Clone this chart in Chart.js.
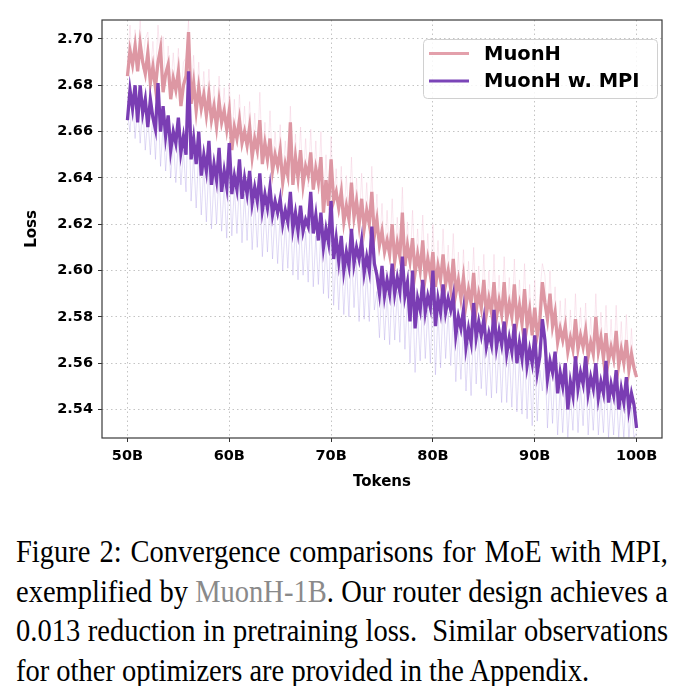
<!DOCTYPE html>
<html>
<head>
<meta charset="utf-8">
<script src="https://cdn.jsdelivr.net/npm/chart.js@4.4.1/dist/chart.umd.min.js"></script>
<style>
  body { margin: 0; background: #fff; width: 689px; height: 686px; position: relative; overflow: hidden; }
  #chartLoss { position: absolute; left: 0; top: 0; }
  .caption { position: absolute; left: 16px; top: 532px; width: 652px; font-family: "Liberation Serif", "Times New Roman", serif; font-size: 28.5px; line-height: 39.5px; color: #000; }
  .caption div { transform: scaleY(1.08); }
  .caption .j { text-align: justify; text-align-last: justify; }
  .gray { color: #8a8a8a; }
</style>
</head>
<body>
<canvas id="chartLoss" width="689" height="500"></canvas>
<div class="caption">
  <div class="j">Figure 2: Convergence comparisons for MoE with MPI,</div>
  <div class="j">exemplified by <span class="gray">MuonH-1B</span>. Our router design achieves a</div>
  <div class="j">0.013 reduction in pretraining loss. &nbsp;Similar observations</div>
  <div>for other optimizers are provided in the Appendix.</div>
</div>
<script>
// every series is sampled from 50B to 100B tokens, every 0.25B
const tokenStart = 50;
const tokenStep = 0.25;
const xTicks = [50, 60, 70, 80, 90, 100];
const yTicks = [2.54, 2.56, 2.58, 2.60, 2.62, 2.64, 2.66, 2.68, 2.70];

// smoothed losses
const lossMuonH = [
  2.684, 2.695, 2.689, 2.697,  2.686, 2.698, 2.690, 2.685,  2.694, 2.681, 2.688, 2.679,
  2.690, 2.696, 2.677, 2.685,  2.689, 2.674, 2.683, 2.678,  2.686, 2.671, 2.680, 2.684,
  2.703, 2.672, 2.681, 2.669,  2.679, 2.670, 2.676, 2.667,  2.676, 2.665, 2.671, 2.662,
  2.673, 2.664, 2.669, 2.661,  2.669, 2.652, 2.662, 2.657,  2.665, 2.655, 2.660, 2.654,
  2.662, 2.649, 2.657, 2.652,  2.665, 2.646, 2.655, 2.648,  2.657, 2.643, 2.650, 2.645,
  2.652, 2.638, 2.646, 2.641,  2.664, 2.637, 2.649, 2.640,  2.652, 2.637, 2.645, 2.641,
  2.651, 2.635, 2.644, 2.638,  2.649, 2.625, 2.639, 2.628,  2.648, 2.630, 2.634, 2.627,
  2.634, 2.621, 2.628, 2.622,  2.638, 2.623, 2.630, 2.620,  2.631, 2.618, 2.626, 2.620,
  2.634, 2.615, 2.622, 2.611,  2.617, 2.608, 2.613, 2.607,  2.620, 2.604, 2.612, 2.606,
  2.625, 2.602, 2.611, 2.604,  2.614, 2.599, 2.607, 2.600,  2.613, 2.597, 2.605, 2.598,
  2.608, 2.593, 2.602, 2.596,  2.607, 2.594, 2.600, 2.592,  2.605, 2.590, 2.596, 2.588,
  2.597, 2.585, 2.592, 2.586,  2.599, 2.583, 2.590, 2.584,  2.596, 2.581, 2.588, 2.582,
  2.595, 2.580, 2.587, 2.581,  2.595, 2.579, 2.586, 2.580,  2.594, 2.578, 2.585, 2.577,
  2.592, 2.576, 2.583, 2.572,  2.584, 2.572, 2.578, 2.595,  2.586, 2.579, 2.590, 2.576,
  2.582, 2.569, 2.575, 2.570,  2.576, 2.565, 2.571, 2.566,  2.579, 2.566, 2.572, 2.567,
  2.574, 2.563, 2.569, 2.564,  2.580, 2.565, 2.571, 2.562,  2.573, 2.561, 2.567, 2.562,
  2.574, 2.559, 2.566, 2.560,  2.570, 2.557, 2.564, 2.558,
  2.554
];

const lossMuonHMPI = [
  2.665, 2.678, 2.670, 2.680,  2.664, 2.680, 2.668, 2.674,  2.662, 2.674, 2.666, 2.661,
  2.681, 2.660, 2.671, 2.658,  2.667, 2.652, 2.660, 2.655,  2.666, 2.651, 2.658, 2.650,
  2.686, 2.648, 2.657, 2.646,  2.660, 2.641, 2.650, 2.643,  2.656, 2.637, 2.646, 2.639,
  2.653, 2.634, 2.643, 2.636,  2.655, 2.633, 2.641, 2.635,  2.648, 2.631, 2.640, 2.633,
  2.643, 2.629, 2.636, 2.630,  2.642, 2.626, 2.633, 2.627,  2.636, 2.624, 2.630, 2.625,
  2.631, 2.620, 2.626, 2.621,  2.634, 2.618, 2.625, 2.617,  2.628, 2.617, 2.622, 2.619,
  2.634, 2.616, 2.624, 2.613,  2.625, 2.610, 2.618, 2.612,  2.630, 2.605, 2.614, 2.604,
  2.615, 2.600, 2.608, 2.602,  2.618, 2.603, 2.610, 2.605,  2.613, 2.599, 2.606, 2.600,
  2.619, 2.603, 2.598, 2.590,  2.602, 2.589, 2.596, 2.590,  2.603, 2.590, 2.597, 2.591,
  2.606, 2.589, 2.595, 2.578,  2.600, 2.575, 2.588, 2.583,  2.596, 2.582, 2.589, 2.584,
  2.600, 2.576, 2.588, 2.582,  2.594, 2.582, 2.588, 2.583,  2.589, 2.572, 2.580, 2.575,
  2.583, 2.567, 2.575, 2.569,  2.586, 2.571, 2.578, 2.572,  2.579, 2.567, 2.573, 2.568,
  2.583, 2.567, 2.574, 2.568,  2.578, 2.564, 2.571, 2.565,  2.577, 2.560, 2.569, 2.562,
  2.575, 2.559, 2.566, 2.560,  2.572, 2.556, 2.563, 2.579,  2.570, 2.553, 2.561, 2.556,
  2.565, 2.547, 2.556, 2.550,  2.560, 2.540, 2.552, 2.546,  2.563, 2.549, 2.556, 2.551,
  2.563, 2.547, 2.554, 2.549,  2.560, 2.545, 2.552, 2.547,  2.561, 2.543, 2.551, 2.546,
  2.557, 2.540, 2.549, 2.543,  2.554, 2.540, 2.547, 2.542,
  2.532
];

// unsmoothed losses (faint lines behind)
const rawMuonH = [
  2.690, 2.706, 2.688, 2.704,  2.692, 2.708, 2.687, 2.700,  2.703, 2.684, 2.699, 2.683,
  2.706, 2.689, 2.701, 2.680,  2.697, 2.679, 2.694, 2.678,  2.696, 2.675, 2.690, 2.692,
  2.708, 2.674, 2.693, 2.671,  2.690, 2.670, 2.686, 2.668,  2.687, 2.666, 2.680, 2.664,
  2.684, 2.663, 2.679, 2.660,  2.681, 2.656, 2.674, 2.656,  2.676, 2.655, 2.671, 2.652,
  2.673, 2.650, 2.668, 2.648,  2.677, 2.647, 2.664, 2.646,  2.669, 2.644, 2.660, 2.642,
  2.663, 2.640, 2.656, 2.638,  2.671, 2.638, 2.659, 2.637,  2.662, 2.637, 2.657, 2.636,
  2.661, 2.635, 2.656, 2.633,  2.660, 2.627, 2.650, 2.626,  2.658, 2.628, 2.644, 2.624,
  2.645, 2.622, 2.641, 2.620,  2.649, 2.621, 2.640, 2.618,  2.642, 2.618, 2.638, 2.616,
  2.645, 2.613, 2.633, 2.609,  2.629, 2.607, 2.626, 2.605,  2.631, 2.604, 2.623, 2.603,
  2.636, 2.602, 2.621, 2.601,  2.626, 2.599, 2.618, 2.597,  2.624, 2.596, 2.616, 2.595,
  2.620, 2.593, 2.613, 2.591,  2.618, 2.593, 2.611, 2.590,  2.616, 2.589, 2.608, 2.586,
  2.609, 2.585, 2.604, 2.583,  2.610, 2.582, 2.602, 2.581,  2.607, 2.580, 2.600, 2.579,
  2.607, 2.579, 2.598, 2.578,  2.606, 2.578, 2.597, 2.576,  2.605, 2.576, 2.596, 2.574,
  2.603, 2.574, 2.594, 2.571,  2.596, 2.571, 2.590, 2.603,  2.598, 2.577, 2.600, 2.574,
  2.593, 2.568, 2.587, 2.567,  2.588, 2.564, 2.583, 2.563,  2.590, 2.565, 2.584, 2.564,
  2.586, 2.562, 2.580, 2.561,  2.590, 2.562, 2.582, 2.560,  2.585, 2.559, 2.579, 2.558,
  2.585, 2.557, 2.578, 2.556,  2.581, 2.555, 2.575, 2.555,
  2.560
];

const rawMuonHMPI = [
  2.668, 2.660, 2.676, 2.657,  2.671, 2.655, 2.672, 2.652,  2.666, 2.650, 2.668, 2.648,
  2.672, 2.645, 2.663, 2.643,  2.659, 2.640, 2.657, 2.638,  2.656, 2.637, 2.652, 2.634,
  2.676, 2.630, 2.650, 2.627,  2.651, 2.624, 2.645, 2.621,  2.646, 2.618, 2.640, 2.620,
  2.643, 2.617, 2.637, 2.614,  2.644, 2.615, 2.636, 2.616,  2.639, 2.612, 2.633, 2.613,
  2.635, 2.609, 2.630, 2.610,  2.633, 2.606, 2.627, 2.608,  2.629, 2.605, 2.625, 2.603,
  2.624, 2.600, 2.621, 2.601,  2.625, 2.598, 2.620, 2.596,  2.621, 2.598, 2.617, 2.595,
  2.625, 2.593, 2.615, 2.594,  2.617, 2.590, 2.612, 2.588,  2.620, 2.585, 2.607, 2.583,
  2.606, 2.581, 2.603, 2.580,  2.609, 2.584, 2.604, 2.578,  2.605, 2.579, 2.600, 2.578,
  2.609, 2.583, 2.591, 2.571,  2.594, 2.570, 2.590, 2.568,  2.595, 2.570, 2.591, 2.569,
  2.597, 2.566, 2.589, 2.560,  2.592, 2.556, 2.582, 2.561,  2.588, 2.562, 2.583, 2.560,
  2.590, 2.555, 2.582, 2.558,  2.586, 2.562, 2.582, 2.559,  2.581, 2.552, 2.574, 2.553,
  2.575, 2.548, 2.569, 2.546,  2.578, 2.551, 2.572, 2.549,  2.571, 2.546, 2.567, 2.545,
  2.575, 2.547, 2.568, 2.543,  2.570, 2.543, 2.565, 2.541,  2.569, 2.539, 2.563, 2.538,
  2.567, 2.536, 2.560, 2.533,  2.564, 2.535, 2.557, 2.548,  2.562, 2.532, 2.555, 2.534,
  2.557, 2.529, 2.550, 2.530,  2.552, 2.528, 2.546, 2.531,  2.555, 2.530, 2.550, 2.533,
  2.555, 2.529, 2.548, 2.531,  2.552, 2.529, 2.546, 2.530,  2.553, 2.528, 2.545, 2.529,
  2.549, 2.528, 2.543, 2.528,  2.546, 2.528, 2.541, 2.528,
  2.530
];

function toPoints(values) {
  return values.map((v, i) => ({ x: tokenStart + i * tokenStep, y: v }));
}

// box around the whole plot area
const framePlugin = {
  id: 'frame',
  afterDatasetsDraw(chart) {
    const { ctx, chartArea: a } = chart;
    ctx.save();
    ctx.strokeStyle = '#3a3a3a';
    ctx.lineWidth = 1.2;
    ctx.strokeRect(a.left, a.top, a.right - a.left, a.bottom - a.top);
    ctx.restore();
  }
};

// matplotlib style legend in the upper right corner
const legendPlugin = {
  id: 'boxLegend',
  afterDraw(chart) {
    const { ctx, chartArea: a } = chart;
    const items = chart.data.datasets.filter(d => d.showInLegend);
    const x = 423, y = 39, w = a.right - 5 - x, h = 59;
    ctx.save();
    ctx.fillStyle = 'rgba(255,255,255,0.85)';
    ctx.strokeStyle = '#d0d0d0';
    ctx.lineWidth = 1;
    ctx.beginPath();
    ctx.roundRect(x + 0.5, y + 0.5, w, h, 4);
    ctx.fill();
    ctx.stroke();
    ctx.font = 'bold 19.5px "DejaVu Sans"';
    ctx.textBaseline = 'middle';
    items.forEach((d, i) => {
      const ly = y + 14.5 + i * 27.5;
      ctx.strokeStyle = d.legendColor;
      ctx.lineWidth = 3;
      ctx.beginPath();
      ctx.moveTo(429, ly);
      ctx.lineTo(469, ly);
      ctx.stroke();
      ctx.fillStyle = '#000';
      ctx.fillText(d.label, 484, ly + 1);
    });
    ctx.restore();
  }
};

const tickFont = { family: 'DejaVu Sans', size: 14.5, weight: 'bold' };
const titleFont = { family: 'DejaVu Sans', size: 15, weight: 'bold' };
const gridStyle = { color: '#c4c4c4', lineWidth: 1, tickLength: 4, tickColor: '#333', tickBorderDash: [] };

new Chart(document.getElementById('chartLoss'), {
  type: 'line',
  data: {
    datasets: [
      {
        label: 'MuonH',
        data: toPoints(lossMuonH),
        borderColor: '#dd97a3',
        legendColor: '#e3a0ab',
        showInLegend: true,
        borderWidth: 3.3,
        order: 1
      },
      {
        label: 'MuonH w. MPI',
        data: toPoints(lossMuonHMPI),
        borderColor: '#7a3db3',
        legendColor: '#7b45b8',
        showInLegend: true,
        borderWidth: 3.3,
        order: 0
      },
      {
        label: 'MuonH (raw)',
        data: toPoints(rawMuonH),
        borderColor: 'rgba(240, 185, 208, 0.35)',
        borderWidth: 1,
        order: 3
      },
      {
        label: 'MuonH w. MPI (raw)',
        data: toPoints(rawMuonHMPI),
        borderColor: 'rgba(165, 145, 228, 0.32)',
        borderWidth: 1,
        order: 2
      }
    ]
  },
  options: {
    responsive: false,
    animation: false,
    layout: { padding: { left: 0, right: 27, top: 20, bottom: 0 } },
    elements: { point: { radius: 0 }, line: { tension: 0 } },
    plugins: { legend: { display: false }, tooltip: { enabled: false } },
    scales: {
      x: {
        type: 'linear',
        min: 47.5,
        max: 102.5,
        afterBuildTicks: s => { s.ticks = xTicks.map(v => ({ value: v })); },
        afterFit: s => { s.height = 62; },
        border: { display: false, dash: [1.5, 3] },
        grid: gridStyle,
        ticks: { font: tickFont, color: '#000', padding: 6, maxRotation: 0, callback: v => v + 'B' },
        title: { display: true, text: 'Tokens', font: titleFont, color: '#000', padding: { top: 4, bottom: 9 } }
      },
      y: {
        min: 2.5277,
        max: 2.7082,
        afterBuildTicks: s => { s.ticks = yTicks.map(v => ({ value: v })); },
        afterFit: s => { s.width = 102; },
        border: { display: false, dash: [1.5, 3] },
        grid: gridStyle,
        ticks: { font: tickFont, color: '#000', padding: 5, callback: v => v.toFixed(2) },
        title: { display: true, text: 'Loss', font: titleFont, color: '#000', padding: { top: 23, bottom: 4 } }
      }
    }
  },
  plugins: [framePlugin, legendPlugin]
});
</script>
</body>
</html>
